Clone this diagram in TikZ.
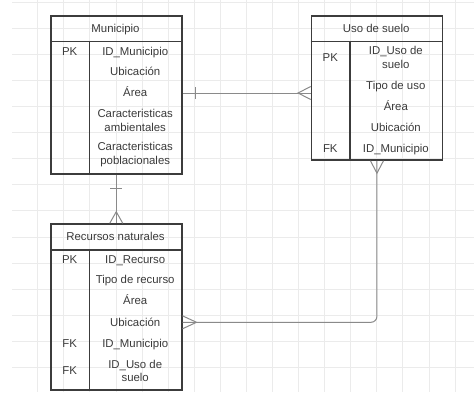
\documentclass[tikz,border=0pt]{standalone}
\usepackage{fontspec}
\setmainfont{Liberation Sans}
\definecolor{boxgray}{HTML}{3C3C3C}
\definecolor{txtgray}{HTML}{3A3A3A}
\definecolor{linegray}{HTML}{8A8A8A}
\definecolor{gridgray}{HTML}{EBEBEB}
\begin{document}
\begin{tikzpicture}[x=1pt,y=-1pt,
	every node/.style={font=\fontsize{11.4}{13.3}\selectfont, text=txtgray, inner sep=0pt},
	row/.style={text height=8pt, text depth=0.5pt},
	tbl/.style={draw=boxgray, line width=1.5pt, minimum width=131pt, anchor=north west},
	tblline/.style={draw=boxgray, line width=1.5pt},
	rel/.style={draw=linegray, line width=1pt},
	gridline/.style={draw=gridgray, line width=0.8pt}]
		\useasboundingbox (0,0) rectangle (474,392);
		\foreach \i in {0,...,16} \draw[gridline] ({37.7+26.08*\i},0) -- ++(0,392);
		\foreach \j in {0,...,14} \draw[gridline] (12,{2.2+26.08*\j}) -- (474,{2.2+26.08*\j});
		\node[tbl, minimum height=158pt] (muni) at (50,15) {};
		\draw[tblline] (muni.north west) ++(0,26.7) -- ++(131,0);
		\draw[tblline] (muni.north west) ++(39.3,26.7) -- ++(0,131.3);
		\node[row] (mHead) at (115.5,28.3) {Municipio};
		\node[row] (mPK) at (69.7,51.7) {PK};
		\node[row] (mId) at (135.2,51.7) {ID\_Municipio};
		\node[row] (mUbi) at (135.2,72) {Ubicación};
		\node[row] (mArea) at (135.2,93) {Área};
		\node[align=center] (mAmb) at (135.2,120.5) {Caracteristicas\\ambientales};
		\node[align=center] (mPob) at (135.2,154.5) {Caracteristicas\\poblacionales};
		\node[tbl, minimum height=144.3pt] (uso) at (310.7,15) {};
		\draw[tblline] (uso.north west) ++(0,26.7) -- ++(131,0);
		\draw[tblline] (uso.north west) ++(39.3,26.7) -- ++(0,117.6);
		\node[row] (uHead) at (376.2,28.3) {Uso de suelo};
		\node[row] (uPK) at (330.3,57.3) {PK};
		\node[align=center] (uId) at (395.8,57.5) {ID\_Uso de\\suelo};
		\node[row] (uTipo) at (395.8,85.7) {Tipo de uso};
		\node[row] (uArea) at (395.8,106.7) {Área};
		\node[row] (uUbi) at (395.8,127.3) {Ubicación};
		\node[row] (uFK) at (330.3,148.3) {FK};
		\node[row] (uMun) at (395.8,148.3) {ID\_Municipio};
		\node[tbl, minimum height=166pt] (recu) at (50,223.3) {};
		\draw[tblline] (recu.north west) ++(0,26.7) -- ++(131,0);
		\draw[tblline] (recu.north west) ++(39.3,26.7) -- ++(0,139.3);
		\node[row] (rHead) at (115.5,236.7) {Recursos naturales};
		\node[row] (rPK) at (69.7,260) {PK};
		\node[row] (rId) at (135.2,260) {ID\_Recurso};
		\node[row] (rTipo) at (135.2,280) {Tipo de recurso};
		\node[row] (rArea) at (135.2,300.7) {Área};
		\node[row] (rUbi) at (135.2,322.3) {Ubicación};
		\node[row] (rFK1) at (69.7,343.3) {FK};
		\node[row] (rMun) at (135.2,343.3) {ID\_Municipio};
		\node[row] (rFK2) at (69.7,371) {FK};
		\node[align=center] (rUso) at (135.2,370.8) {ID\_Uso de\\suelo};
		\draw[rel] (muni.east |- mArea) -- (uso.west |- mArea);
		\draw[rel] (muni.east |- mArea) ++(13,-6) -- ++(0,12);
		\draw[rel] (uso.west |- mArea) ++(0,-6.5) -- ++(-12.7,6.5) -- ++(12.7,6.5);
		\draw[rel] (muni.south) -- (recu.north);
		\draw[rel] (muni.south) ++(-6,13.7) -- ++(12,0);
		\draw[rel] (recu.north) ++(-6.5,0) -- ++(6.5,-11.6) -- ++(6.5,11.6);
		\draw[rel, rounded corners=6pt] (uso.south) |- (recu.east |- rUbi);
		\draw[rel] (uso.south) ++(-6.5,0) -- ++(6.5,12.4) -- ++(6.5,-12.4);
		\draw[rel] (recu.east |- rUbi) ++(0,-6.5) -- ++(14,6.5) -- ++(-14,6.5);
\end{tikzpicture}
\end{document}
